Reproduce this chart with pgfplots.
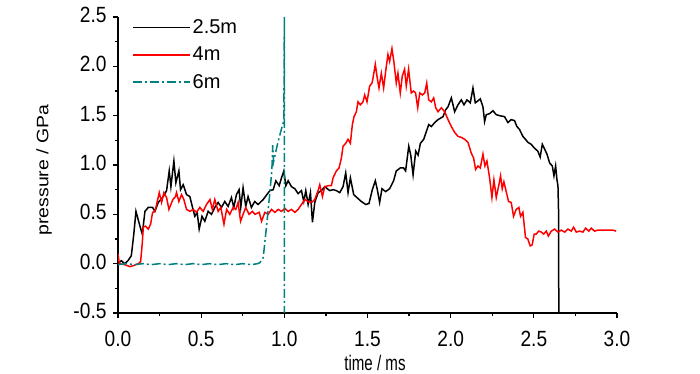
\documentclass[border=0pt]{standalone}
\usepackage{fontspec}
\setmainfont{Liberation Sans}
\newfontfamily\tickfont[FakeStretch=0.87]{Liberation Sans}
\newfontfamily\xlabfont[FakeStretch=0.72]{Liberation Sans}
\usepackage{pgfplots}
\pgfplotsset{compat=1.18}
\definecolor{tealc}{RGB}{0,128,128}
\begin{document}
\begin{tikzpicture}
\useasboundingbox (0,0) rectangle (700pt,374pt);
\begin{axis}[
  at={(118pt,61pt)}, anchor=south west,
  width=499pt, height=296pt, scale only axis,
  xmin=0, xmax=3, ymin=-0.5, ymax=2.5,
  axis x line*=bottom, axis y line*=left,
  axis line style={line width=1.2pt},
  tick align=outside,
  major tick length=5pt, minor tick length=3pt,
  tick style={line width=1.2pt, black},
  xtick={0,0.5,...,3}, ytick={-0.5,0,...,2.5},
  minor tick num=1,
  /pgf/number format/assume math mode=true,
  xticklabel style={/pgf/number format/fixed,/pgf/number format/fixed zerofill,/pgf/number format/precision=1, yshift=-10pt},
  yticklabel style={/pgf/number format/fixed,/pgf/number format/fixed zerofill,/pgf/number format/precision=1, xshift=-3pt, yshift=2pt},
  tick label style={font=\tickfont\fontsize{22}{24}\selectfont},
  xlabel={\xlabfont\fontsize{21}{23}\selectfont time / ms},
  xlabel style={at={(axis description cs:0.515,-0.168)}, anchor=center},
  ylabel={\scalebox{1}[0.85]{\fontsize{19.5}{21}\selectfont pressure / GPa}},
  ylabel style={at={(axis description cs:-0.148,0.483)}, anchor=center, rotate=0},
  legend style={draw=none, fill=none, at={(0.022,1.005)}, anchor=north west,
    font=\fontsize{20}{22}\selectfont, row sep=8pt},
  legend cell align=left,
  legend image code/.code={\draw[#1] (0pt,0pt) -- (57pt,0pt);},
]
\addplot[black, line width=1.5pt] coordinates {
(0,0.0) (0.02,0.03) (0.04,0.0) (0.06,0.03) (0.08,0.08) (0.095,0.3) (0.108,0.53) (0.132,0.38) (0.146,0.30) (0.162,0.53) (0.182,0.57) (0.208,0.57) (0.222,0.53) (0.242,0.62) (0.272,0.68) (0.292,0.74) (0.308,0.94) (0.318,0.78) (0.336,1.04) (0.348,0.82) (0.366,0.94) (0.376,0.75) (0.392,0.80) (0.412,0.70) (0.432,0.68) (0.448,0.57) (0.462,0.48) (0.476,0.52) (0.488,0.35) (0.505,0.48) (0.522,0.43) (0.542,0.53) (0.562,0.50) (0.582,0.57) (0.602,0.62) (0.622,0.57) (0.642,0.63) (0.662,0.58) (0.682,0.67) (0.696,0.57) (0.712,0.70) (0.728,0.75) (0.738,0.57) (0.752,0.77) (0.768,0.58) (0.782,0.68) (0.802,0.57) (0.822,0.63) (0.842,0.60) (0.873,0.65) (0.913,0.74) (0.933,0.75) (0.949,0.84) (0.969,0.79) (0.983,0.87) (0.997,0.94) (1.009,0.79) (1.023,0.84) (1.043,0.78) (1.063,0.76) (1.083,0.71) (1.103,0.74) (1.117,0.63) (1.129,0.74) (1.143,0.60) (1.157,0.72) (1.169,0.42) (1.183,0.62) (1.203,0.72) (1.223,0.74) (1.243,0.78) (1.273,0.74) (1.293,0.75) (1.313,0.74) (1.333,0.72) (1.353,0.78) (1.369,0.92) (1.383,0.72) (1.397,0.87) (1.417,0.70) (1.443,0.66) (1.463,0.63) (1.489,0.60) (1.509,0.61) (1.529,0.75) (1.547,0.84) (1.559,0.75) (1.573,0.62) (1.587,0.76) (1.609,0.73) (1.633,0.76) (1.657,0.84) (1.673,0.94) (1.697,0.97) (1.717,0.97) (1.729,0.94) (1.748,1.19) (1.760,1.10) (1.774,0.90) (1.790,1.14) (1.804,1.10) (1.818,1.22) (1.838,1.26) (1.854,1.34) (1.868,1.41) (1.884,1.39) (1.904,1.43) (1.924,1.46) (1.954,1.49) (1.970,1.56) (1.984,1.59) (2.004,1.68) (2.024,1.54) (2.044,1.61) (2.064,1.66) (2.080,1.61) (2.098,1.66) (2.118,1.63) (2.134,1.78) (2.148,1.63) (2.164,1.65) (2.178,1.67) (2.194,1.59) (2.204,1.44) (2.214,1.51) (2.234,1.52) (2.254,1.55) (2.274,1.51) (2.294,1.50) (2.324,1.49) (2.344,1.43) (2.364,1.46) (2.384,1.45) (2.398,1.39) (2.414,1.36) (2.434,1.29) (2.450,1.26) (2.464,1.23) (2.484,1.21) (2.504,1.17) (2.524,1.14) (2.538,1.08) (2.551,1.21) (2.565,1.16) (2.579,1.11) (2.595,1.02) (2.611,0.99) (2.621,0.89) (2.631,0.99) (2.639,0.85) (2.645,0.79) (2.649,0.5) (2.65,-0.5)
};
\addlegendentry{2.5m}
\addplot[red, line width=1.5pt] coordinates {
(0,0.1) (0.008,0.0) (0.04,-0.01) (0.072,-0.03) (0.092,-0.02) (0.122,0.0) (0.136,0.02) (0.146,0.21) (0.152,0.37) (0.166,0.38) (0.182,0.35) (0.196,0.40) (0.208,0.52) (0.222,0.53) (0.232,0.60) (0.248,0.72) (0.262,0.62) (0.276,0.72) (0.292,0.67) (0.306,0.55) (0.33,0.65) (0.346,0.68) (0.352,0.72) (0.366,0.63) (0.382,0.70) (0.396,0.65) (0.412,0.55) (0.432,0.53) (0.452,0.55) (0.472,0.52) (0.492,0.57) (0.512,0.53) (0.532,0.60) (0.553,0.65) (0.567,0.55) (0.582,0.65) (0.602,0.53) (0.618,0.57) (0.637,0.40) (0.653,0.55) (0.672,0.50) (0.692,0.57) (0.708,0.55) (0.722,0.62) (0.737,0.43) (0.752,0.50) (0.768,0.57) (0.788,0.50) (0.808,0.53) (0.823,0.50) (0.849,0.52) (0.863,0.43) (0.883,0.52) (0.903,0.50) (0.923,0.55) (0.943,0.52) (0.963,0.55) (0.983,0.53) (1.003,0.56) (1.023,0.53) (1.043,0.55) (1.063,0.52) (1.083,0.55) (1.103,0.60) (1.123,0.65) (1.143,0.63) (1.163,0.62) (1.183,0.65) (1.203,0.74) (1.213,0.80) (1.229,0.68) (1.243,0.78) (1.263,0.79) (1.283,0.79) (1.293,0.87) (1.313,0.94) (1.329,0.97) (1.343,1.07) (1.353,1.19) (1.369,1.22) (1.383,1.26) (1.397,1.22) (1.409,1.41) (1.419,1.49) (1.433,1.54) (1.443,1.64) (1.457,1.61) (1.473,1.64) (1.483,1.71) (1.497,1.64) (1.513,1.80) (1.527,1.83) (1.533,1.88) (1.547,2.02) (1.557,1.90) (1.569,1.78) (1.583,1.93) (1.597,1.78) (1.613,2.0) (1.623,2.12) (1.633,2.05) (1.647,2.18) (1.659,2.04) (1.673,1.83) (1.683,1.93) (1.697,1.73) (1.709,1.90) (1.723,1.97) (1.733,1.80) (1.747,1.97) (1.763,1.73) (1.777,1.75) (1.789,1.73) (1.802,1.58) (1.814,1.73) (1.830,1.71) (1.844,1.73) (1.856,1.83) (1.868,1.66) (1.884,1.64) (1.898,1.68) (1.910,1.58) (1.924,1.54) (1.944,1.58) (1.964,1.54) (1.984,1.46) (2.004,1.39) (2.024,1.33) (2.044,1.29) (2.064,1.28) (2.084,1.26) (2.104,1.23) (2.124,1.12) (2.138,1.07) (2.150,0.955) (2.164,0.99) (2.178,0.97) (2.194,1.11) (2.206,0.99) (2.218,1.04) (2.234,0.87) (2.248,0.67) (2.260,0.85) (2.274,0.67) (2.290,0.80) (2.300,0.89) (2.310,0.76) (2.320,0.83) (2.334,0.73) (2.348,0.63) (2.364,0.62) (2.378,0.48) (2.394,0.55) (2.410,0.57) (2.420,0.48) (2.434,0.52) (2.450,0.265) (2.464,0.25) (2.478,0.18) (2.490,0.19) (2.502,0.30) (2.514,0.30) (2.530,0.33) (2.545,0.32) (2.559,0.30) (2.575,0.33) (2.587,0.28) (2.605,0.33) (2.625,0.35) (2.645,0.32) (2.665,0.34) (2.685,0.32) (2.705,0.35) (2.725,0.33) (2.739,0.37) (2.755,0.32) (2.775,0.33) (2.795,0.32) (2.811,0.36) (2.831,0.33) (2.845,0.36) (2.865,0.33) (2.885,0.34) (2.915,0.34) (2.945,0.34) (2.975,0.34) (2.995,0.33)
};
\addlegendentry{4m}
\addplot[tealc, line width=1.5pt, dash pattern=on 9pt off 3pt on 2pt off 3pt] coordinates {
(0,-0.01) (0.05,0.0) (0.1,-0.01) (0.15,0.0) (0.2,-0.01) (0.25,0.0) (0.3,-0.01) (0.35,0.0) (0.4,-0.01) (0.45,0.0) (0.5,-0.01) (0.55,0.0) (0.6,-0.01) (0.65,0.0) (0.7,-0.01) (0.75,0.0) (0.8,-0.01) (0.84,0.0) (0.853,0.01) (0.873,0.06) (0.893,0.38) (0.913,0.72) (0.925,0.95) (0.93,1.2) (0.935,1.03) (0.96,1.22) (0.985,1.38) (0.997,1.45) (1.0,2.5) (1.0,-0.5)
};
\addlegendentry{6m}
\end{axis}
\end{tikzpicture}
\end{document}
